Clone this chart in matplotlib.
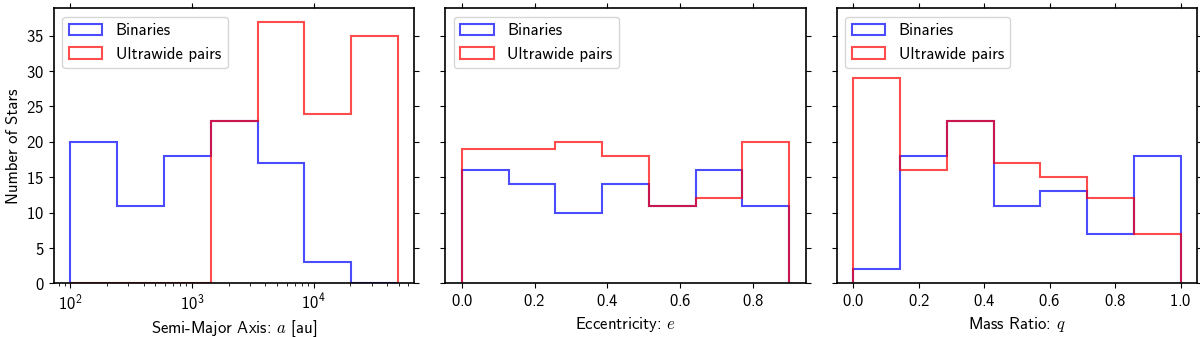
import matplotlib
matplotlib.use("Agg")
import matplotlib.pyplot as plt

plt.rcParams['font.family'] = ['cmss10', 'DejaVu Sans']
plt.rcParams['mathtext.fontset'] = 'cm'
plt.rcParams['axes.formatter.use_mathtext'] = True
plt.rcParams['axes.unicode_minus'] = False

# bin edges and counts
a_edges = [100, 243, 588, 1425, 3450, 8360, 20250, 49000]
a_bin = [20, 11, 18, 23, 17, 3, 0]
a_uw = [0, 0, 0, 23, 37, 24, 35]

e_edges = [0.0, 0.1286, 0.2571, 0.3857, 0.5143, 0.6429, 0.7714, 0.9]
e_bin = [16, 14, 10, 14, 11, 16, 11]
e_uw = [19, 19, 20, 18, 11, 12, 20]

q_edges = [0.0, 0.1429, 0.2857, 0.4286, 0.5714, 0.7143, 0.8571, 1.0]
q_bin = [2, 18, 23, 11, 13, 7, 18]
q_uw = [29, 16, 23, 17, 15, 12, 7]

xlabels = ['Semi-Major Axis: $a$ [au]', 'Eccentricity: $e$', 'Mass Ratio: $q$']

fig, axes = plt.subplots(1, 3, figsize=(12, 3.37), dpi=100, sharey=True)
fig.subplots_adjust(left=0.045, right=0.9975, top=0.975, bottom=0.159, wspace=0.087)

panels = [(a_edges, a_bin, a_uw), (e_edges, e_bin, e_uw), (q_edges, q_bin, q_uw)]
for ax, (edges, nb, nu), xl in zip(axes, panels, xlabels):
    ax.hist(edges[:-1], bins=edges, weights=nb, histtype='step', color='b',
            alpha=0.7, lw=1.5, label='Binaries')
    ax.hist(edges[:-1], bins=edges, weights=nu, histtype='step', color='r',
            alpha=0.7, lw=1.5, label='Ultrawide pairs')
    ax.set_xlabel(xl, fontsize=12)
    ax.legend(loc='upper left', fontsize=12)
    ax.tick_params(which='major', top=True, right=True, labelsize=12)
    for s in ax.spines.values():
        s.set_linewidth(1.2)

axes[0].set_xscale('log')
axes[0].set_ylabel('Number of Stars', fontsize=12)
axes[0].set_yticks([0, 5, 10, 15, 20, 25, 30, 35])
axes[1].set_xticks([0.0, 0.2, 0.4, 0.6, 0.8])
axes[2].set_xticks([0.0, 0.2, 0.4, 0.6, 0.8, 1.0])

fig.savefig('out.png')
